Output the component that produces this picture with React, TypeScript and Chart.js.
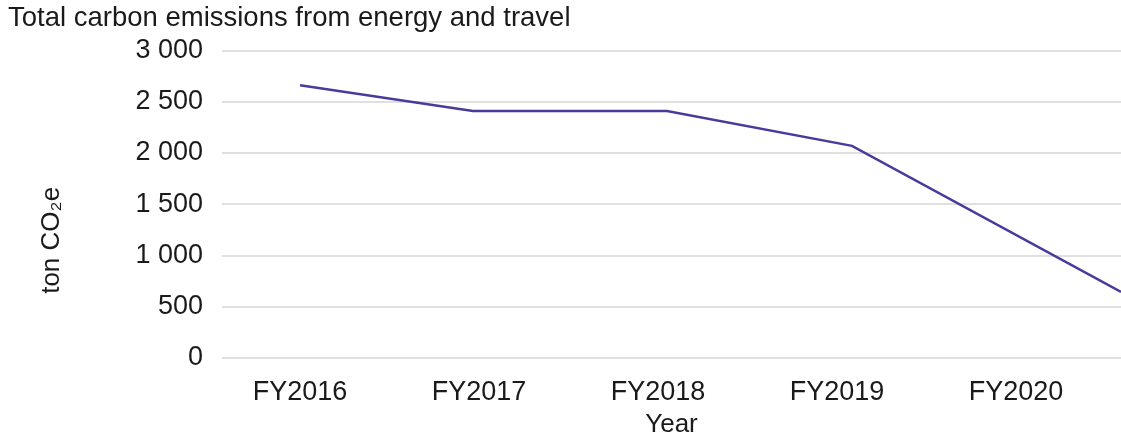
import React, { useEffect, useRef } from "react";
import { Chart, registerables } from "chart.js";

Chart.register(...registerables);

const chartTitle = "Total carbon emissions from energy and travel";
const yAxisTitle = "ton CO\u2082e          ";
const xAxisTitle = "Year";
const yearTicks = [2016, 2017, 2018, 2019, 2020];
const tickLabels = ["FY2016", "FY2017", "FY2018", "FY2019", "FY2020"];
// x positions of the data points (in fiscal-year units) and their values
const pointYears = [2016.0, 2016.966, 2018.05, 2019.084, 2020.587];
const emissions = [2660, 2410, 2410, 2070, 645];
const xMin = 2015.564;
const xMax = 2020.587;
const yTicks = [0, 500, 1000, 1500, 2000, 2500, 3000];

const FONT = "'Liberation Sans', Arial, Helvetica, sans-serif";
const TEXT = "#1a1a1a";

function fmt(v: number): string {
  return String(v).replace(/\B(?=(\d{3})+(?!\d))/g, " ");
}

export default function App() {
  const ref = useRef<HTMLCanvasElement | null>(null);
  useEffect(() => {
    if (!ref.current) return;
    const chart = new Chart(ref.current, {
      type: "line",
      data: {
        datasets: [
          {
            data: pointYears.map((x, i) => ({ x, y: emissions[i] })),
            borderColor: "#4b3a9c",
            borderWidth: 2.5,
            pointRadius: 0,
            tension: 0,
            fill: false,
          },
        ],
      },
      options: {
        animation: false,
        responsive: false,
        devicePixelRatio: 1,
        layout: { padding: { left: 8, right: 0, top: 0, bottom: 0 } },
        plugins: {
          legend: { display: false },
          tooltip: { enabled: false },
          title: {
            display: true,
            text: chartTitle,
            align: "start",
            color: TEXT,
            font: { family: FONT, size: 27.5, weight: "normal" },
            padding: { top: 2, bottom: 15.5 },
          },
        },
        scales: {
          x: {
            type: "linear",
            min: xMin,
            max: xMax,
            grid: { display: false, drawTicks: false },
            border: { display: false },
            afterBuildTicks: (scale: any) => {
              scale.ticks = yearTicks.map((v) => ({ value: v }));
            },
            afterFit: (scale: any) => {
              scale.height = 83;
            },
            ticks: {
              color: TEXT,
              font: { family: FONT, size: 27 },
              padding: 18,
              maxRotation: 0,
              autoSkip: false,
              callback: (v: any) => {
                const i = yearTicks.indexOf(Number(v));
                return i >= 0 ? tickLabels[i] : "";
              },
            },
            title: {
              display: true,
              text: xAxisTitle,
              color: TEXT,
              font: { family: FONT, size: 26 },
              padding: { top: 2, bottom: 1 },
            },
          },
          y: {
            min: 0,
            max: 3000,
            grid: { color: "#e0e0e0", lineWidth: 2, drawTicks: false },
            border: { display: false },
            afterBuildTicks: (scale: any) => {
              scale.ticks = yTicks.map((v) => ({ value: v }));
            },
            afterFit: (scale: any) => {
              scale.width = 214;
            },
            ticks: {
              color: TEXT,
              font: { family: FONT, size: 27 },
              padding: 19,
              callback: (v: any) => fmt(Number(v)),
            },
            title: {
              display: true,
              text: yAxisTitle,
              color: TEXT,
              font: { family: FONT, size: 26 },
              padding: { top: 28, bottom: 0 },
            },
          },
        },
      },
    });
    return () => chart.destroy();
  }, []);
  return (
    <div style={{ position: "fixed", left: 0, top: 0, width: 1121, height: 441, background: "#fff" }}>
      <canvas ref={ref} width={1121} height={441} style={{ display: "block" }} />
    </div>
  );
}
